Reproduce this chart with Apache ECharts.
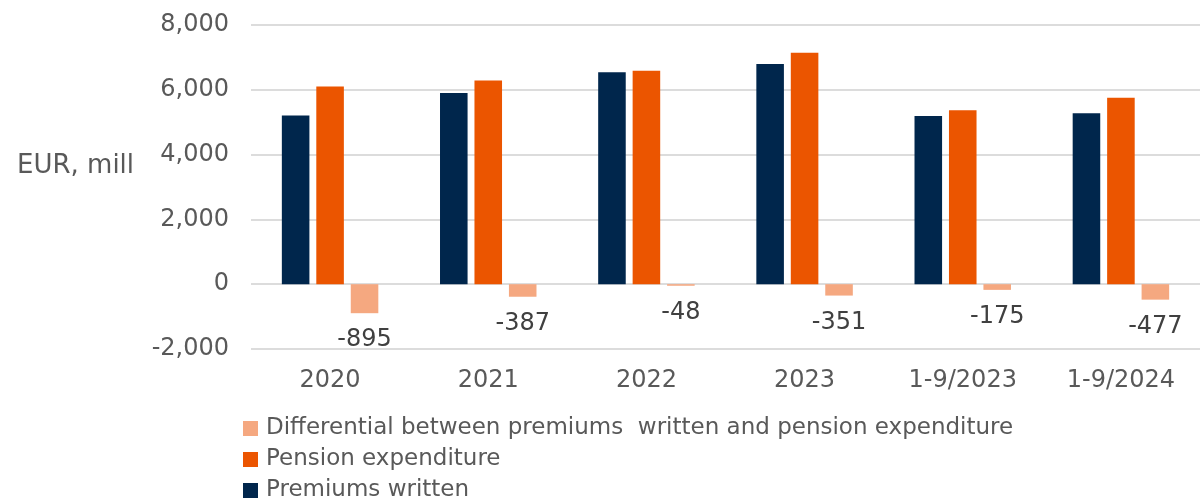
<!DOCTYPE html>
<html>
<head>
<meta charset="utf-8">
<title>Premiums written and pension expenditure</title>
<script src="https://cdn.jsdelivr.net/npm/echarts@6/dist/echarts.min.js"></script>
<style>
  html, body { margin: 0; padding: 0; background: #ffffff; }
  #chart { width: 1200px; height: 500px; }
</style>
</head>
<body>
<div id="chart"></div>
<script>
// Periods on the category axis
const categories = ['2020', '2021', '2022', '2023', '1-9/2023', '1-9/2024'];

// EUR million
const premiumsWritten = [5205, 5900, 6540, 6795, 5190, 5280];
const pensionExpenditure = [6100, 6287, 6588, 7146, 5365, 5757];
const differential = [-895, -387, -48, -351, -175, -477];

// Value-axis range and step
const yMin = -2000;
const yMax = 8000;
const yStep = 2000;

const seriesNames = {
  premiums: 'Premiums written',
  pension: 'Pension expenditure',
  diff: 'Differential between premiums  written and pension expenditure'
};

const FONT = 'DejaVu Sans';
const GREY = '#595959';

// One legend block per row so the three entries stack without wrapping
const legendOrder = [seriesNames.diff, seriesNames.pension, seriesNames.premiums];
const legendTops = [417, 448, 479];
const legends = legendOrder.map((name, i) => ({
  data: [name],
  left: 243,
  top: legendTops[i],
  padding: 0,
  itemWidth: 15,
  itemHeight: 15,
  icon: 'rect',
  selectedMode: false,
  textStyle: { fontFamily: FONT, fontSize: 23, color: GREY, padding: [0, 0, 0, 3] }
}));

const chart = echarts.init(document.getElementById('chart'), null, { renderer: 'canvas' });

chart.setOption({
  backgroundColor: '#ffffff',
  animation: false,
  textStyle: { fontFamily: FONT },
  title: {
    text: 'EUR, mill',
    left: 17,
    top: 153,
    padding: 0,
    textStyle: { fontFamily: FONT, fontSize: 26, fontWeight: 'normal', color: GREY }
  },
  grid: { left: 251, top: 25, width: 954, height: 324, containLabel: false },
  legend: legends,
  xAxis: {
    type: 'category',
    data: categories,
    axisLine: { show: false, onZero: false },
    axisTick: { show: false },
    axisLabel: { fontFamily: FONT, fontSize: 24, color: GREY, margin: 20 }
  },
  yAxis: {
    type: 'value',
    min: yMin,
    max: yMax,
    interval: yStep,
    axisLine: { show: false },
    axisTick: { show: false },
    splitLine: { lineStyle: { color: '#dcdcdc', width: 2 } },
    axisLabel: {
      fontFamily: FONT,
      fontSize: 24,
      color: GREY,
      margin: 22,
      formatter: v => v.toLocaleString('en-US')
    }
  },
  series: [
    {
      name: seriesNames.premiums,
      type: 'bar',
      data: premiumsWritten,
      barGap: '25%',
      barCategoryGap: '39%',
      itemStyle: { color: '#00264C' }
    },
    {
      name: seriesNames.pension,
      type: 'bar',
      data: pensionExpenditure,
      itemStyle: { color: '#EB5500' }
    },
    {
      name: seriesNames.diff,
      type: 'bar',
      data: differential,
      itemStyle: { color: '#F5A880' },
      label: {
        show: true,
        position: 'bottom',
        distance: 15,
        fontFamily: FONT,
        fontSize: 24,
        color: '#404040'
      }
    }
  ]
});
</script>
</body>
</html>
